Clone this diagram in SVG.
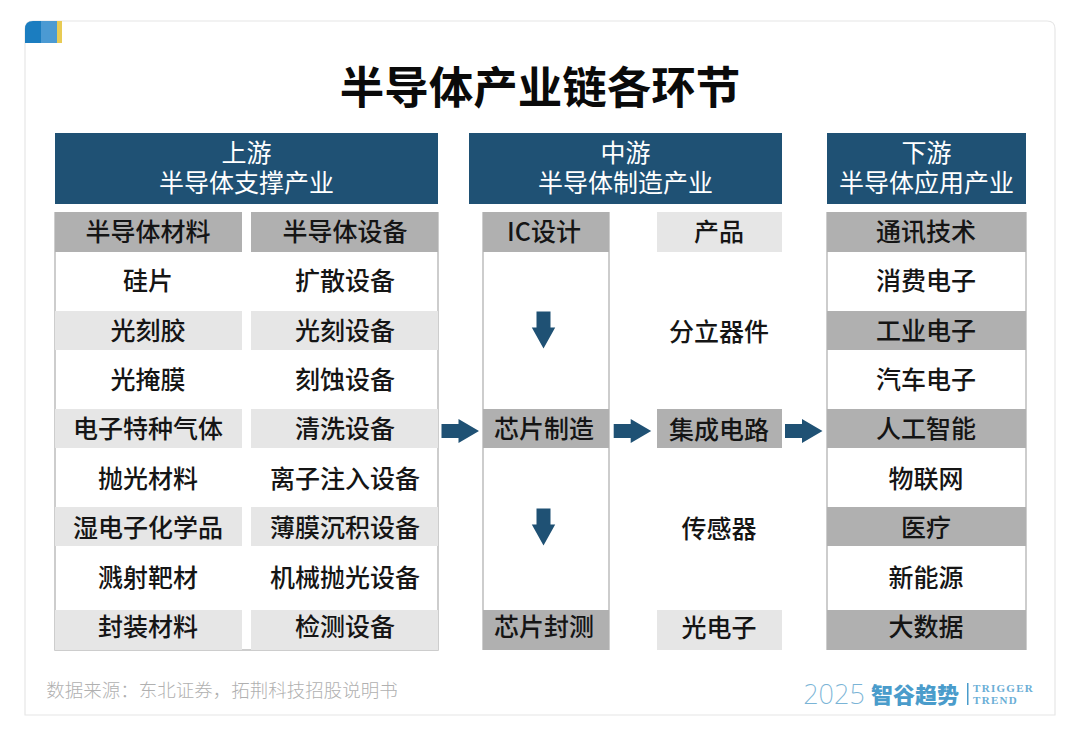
<svg xmlns="http://www.w3.org/2000/svg" width="1080" height="743" viewBox="0 0 1080 743">
<style>
text{font-family:"Noto Sans CJK SC","Liberation Sans",sans-serif;text-anchor:middle}
.c{font-size:25px;fill:#151515;font-weight:500}
.h{font-size:25px;fill:#fff;font-family:"Liberation Sans","Noto Sans CJK SC",sans-serif}
.d{fill:#b0b0b0}.l{fill:#e6e6e6}.n{fill:#1f5174}
.o{fill:none;stroke:#bdbdbd;stroke-width:1.5}
</style>
<defs>
<path id="ar" d="M0-7H17V-12L37.500 0L17 12V7H0Z" class="n"/>
<path id="ad" d="M-7 0H7V16H11.700L0 37L-11.700 16H-7Z" class="n"/>
</defs>
<rect width="1080" height="743" fill="#fff"/>
<g id="card">
<path d="M25 715V29Q25 21 33 21H1047Q1055 21 1055 29V715Z" fill="#fff" stroke="#e6e6e6" stroke-width="1.2"/>
<path d="M25 43V29Q25 21 33 21H41V43Z" fill="#1b7dc0"/><rect x="41" y="21" width="16" height="22" fill="#4b9ad3"/><rect x="57" y="21" width="5" height="22" fill="#e8cb54"/>
</g>
<text id="title" x="540" y="104" style="font-size:44.500px;font-weight:700;fill:#0a0a0a">半导体产业链各环节</text>
<g id="upstream">
<rect x="55" y="133" width="383" height="71" class="n"/>
<text class="h"><tspan x="246.500" y="162">上游</tspan><tspan x="246.500" y="192">半导体支撑产业</tspan></text>
<path d="M55 212V650H438V212" class="o"/>
<rect x="55" y="212" width="187" height="40" class="d"/><rect x="251" y="212" width="187" height="40" class="d"/>
<rect x="55" y="311" width="187" height="39" class="l"/><rect x="251" y="311" width="187" height="39" class="l"/>
<rect x="55" y="409" width="187" height="39" class="l"/><rect x="251" y="409" width="187" height="39" class="l"/>
<rect x="55" y="507" width="187" height="39" class="l"/><rect x="251" y="507" width="187" height="39" class="l"/>
<rect x="55" y="610" width="187" height="40" class="l"/><rect x="251" y="610" width="187" height="40" class="l"/>
<text x="148" y="241" class="c">半导体材料</text><text x="345" y="241" class="c">半导体设备</text>
<text x="148" y="290" class="c">硅片</text><text x="345" y="290" class="c">扩散设备</text>
<text x="148" y="340" class="c">光刻胶</text><text x="345" y="340" class="c">光刻设备</text>
<text x="148" y="389" class="c">光掩膜</text><text x="345" y="389" class="c">刻蚀设备</text>
<text x="148" y="438" class="c">电子特种气体</text><text x="345" y="438" class="c">清洗设备</text>
<text x="148" y="488" class="c">抛光材料</text><text x="345" y="488" class="c">离子注入设备</text>
<text x="148" y="537" class="c">湿电子化学品</text><text x="345" y="537" class="c">薄膜沉积设备</text>
<text x="148" y="587" class="c">溅射靶材</text><text x="345" y="587" class="c">机械抛光设备</text>
<text x="148" y="636" class="c">封装材料</text><text x="345" y="636" class="c">检测设备</text>
</g>
<g id="midstream">
<rect x="469" y="133" width="313" height="71" class="n"/>
<text class="h"><tspan x="625.500" y="162">中游</tspan><tspan x="625.500" y="192">半导体制造产业</tspan></text>
<path d="M483 212V650M609 212V650" class="o"/>
<rect x="483" y="212" width="126" height="40" class="d"/><rect x="657" y="212" width="125" height="40" class="l"/>
<rect x="483" y="409" width="126" height="39" class="d"/><rect x="657" y="409" width="125" height="39" class="d"/>
<rect x="483" y="610" width="126" height="40" class="d"/><rect x="657" y="610" width="125" height="40" class="l"/>
<text x="544" y="241" class="c">IC设计</text><text x="719" y="241" class="c">产品</text>
<text x="719" y="341" class="c">分立器件</text>
<text x="544" y="438" class="c">芯片制造</text><text x="719" y="439" class="c">集成电路</text>
<text x="719" y="538" class="c">传感器</text>
<text x="544" y="636" class="c">芯片封测</text><text x="719" y="637" class="c">光电子</text>
</g>
<g id="downstream">
<rect x="827" y="133" width="199" height="71" class="n"/>
<text class="h"><tspan x="926.500" y="162">下游</tspan><tspan x="926.500" y="192">半导体应用产业</tspan></text>
<path d="M827 212V650M1026 212V650" class="o"/>
<rect x="827" y="212" width="199" height="40" class="d"/><rect x="827" y="311" width="199" height="39" class="d"/><rect x="827" y="409" width="199" height="39" class="d"/><rect x="827" y="507" width="199" height="39" class="d"/><rect x="827" y="610" width="199" height="40" class="d"/>
<text x="926" y="241" class="c">通讯技术</text><text x="926" y="290" class="c">消费电子</text><text x="926" y="340" class="c">工业电子</text><text x="926" y="389" class="c">汽车电子</text><text x="926" y="438" class="c">人工智能</text><text x="926" y="488" class="c">物联网</text><text x="926" y="537" class="c">医疗</text><text x="926" y="587" class="c">新能源</text><text x="926" y="636" class="c">大数据</text>
</g>
<g id="connectors">
<use href="#ar" x="441.500" y="431"/><use href="#ar" x="613.700" y="431"/><use href="#ar" x="785" y="431"/>
<use href="#ad" x="543.500" y="311.500"/><use href="#ad" x="543.500" y="508.500"/>
</g>
<g id="footer">
<text x="222" y="697" style="font-size:18.500px;font-weight:300;fill:#b0b0b0">数据来源：东北证券，拓荆科技招股说明书</text>
<text x="834" y="704" style="font-size:27px;font-weight:200;fill:#7ab4d6;font-family:'Noto Sans','Liberation Sans',sans-serif">2025</text>
<text x="915" y="703" style="font-size:22px;font-weight:900;fill:#4a9ccb">智谷趋势</text>
<rect x="967" y="683" width="1.500" height="22" fill="#4a9ccb"/>
<text x="973" y="692" style="font-size:11px;font-weight:700;letter-spacing:1.300px;fill:#6aaed6;text-anchor:start;font-family:'Liberation Serif',serif">TRIGGER</text>
<text x="973" y="704" style="font-size:11px;font-weight:700;letter-spacing:1.300px;fill:#6aaed6;text-anchor:start;font-family:'Liberation Serif',serif">TREND</text>
</g>
</svg>
